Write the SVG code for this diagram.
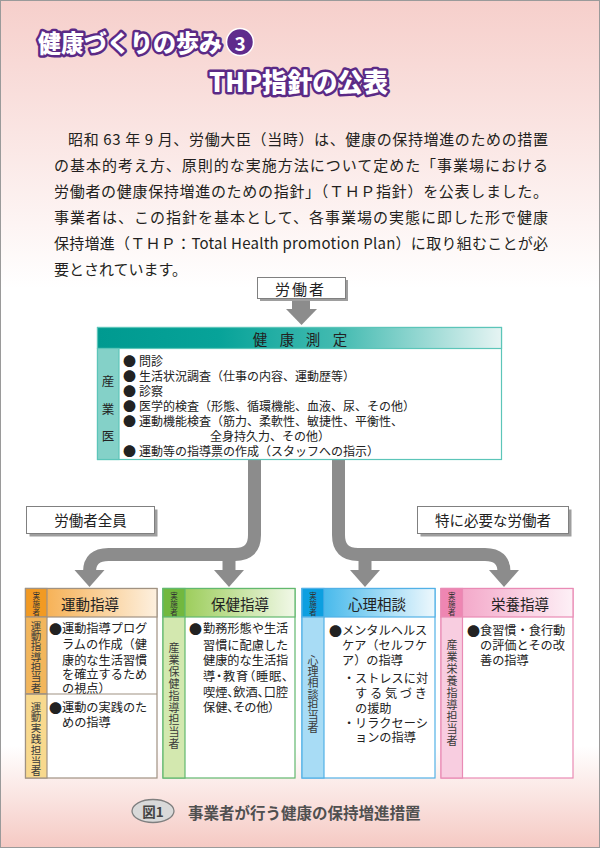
<svg xmlns="http://www.w3.org/2000/svg" width="600" height="848" viewBox="0 0 600 848">
<defs>
<linearGradient id="bg" x1="0" y1="0" x2="0" y2="848" gradientUnits="userSpaceOnUse">
<stop offset="0" stop-color="#f6cfcb"/>
<stop offset="0.34" stop-color="#ffffff"/>
<stop offset="0.88" stop-color="#ffffff"/>
<stop offset="1" stop-color="#f5c9c3"/>
</linearGradient>
<linearGradient id="teal" x1="0" y1="0" x2="1" y2="0">
<stop offset="0" stop-color="#009a90"/>
<stop offset="0.3" stop-color="#07a399"/>
<stop offset="0.6" stop-color="#44bbb1"/>
<stop offset="1" stop-color="#e6f4f3"/>
</linearGradient>
<linearGradient id="gOr" x1="0" y1="0" x2="1" y2="0">
<stop offset="0" stop-color="#f5a63d"/>
<stop offset="1" stop-color="#fdf0df"/>
</linearGradient>
<linearGradient id="gGr" x1="0" y1="0" x2="1" y2="0">
<stop offset="0" stop-color="#8cc540"/>
<stop offset="1" stop-color="#f1f8e8"/>
</linearGradient>
<linearGradient id="gBl" x1="0" y1="0" x2="1" y2="0">
<stop offset="0" stop-color="#27ade8"/>
<stop offset="1" stop-color="#eef8fd"/>
</linearGradient>
<linearGradient id="gPk" x1="0" y1="0" x2="1" y2="0">
<stop offset="0" stop-color="#f29bc1"/>
<stop offset="1" stop-color="#fdf0f6"/>
</linearGradient>
</defs>
<style>
text { font-family: "Noto Sans CJK JP", "Noto Sans", sans-serif; dominant-baseline: central; fill: #222; }
.title { font-weight: 900; fill: #ffffff; stroke: #5b2a86; stroke-width: 5; stroke-linejoin: round; paint-order: stroke; }
.para { font-size: 15px; fill: #231f20; }
.lab { font-size: 14.5px; }
.c12 { font-size: 12px; }
.b12 { font-size: 12.2px; }
.bul { font-size: 13px; }
.vt { font-size: 10.5px; fill: #3a3a3a; text-anchor: middle; }
.vt11 { font-size: 11px; fill: #3a3a3a; text-anchor: middle; }
.jis { font-size: 7.5px; fill: #333; text-anchor: middle; }
.hd { font-size: 14.5px; text-anchor: middle; }
.palt { font-feature-settings: "palt"; }
.arrow { fill: none; stroke: #8c8c8c; stroke-width: 13; }
.head { fill: #8c8c8c; }
.shadow { fill: #9e9e9e; }
.wbox { fill: #ffffff; stroke: #808080; stroke-width: 1; }
</style>

<rect x="0.5" y="0.5" width="599" height="847" fill="url(#bg)" stroke="#9a9a9a" stroke-width="1"/>

<g id="title">
<text class="title" x="38" y="42" font-size="23.5" textLength="184" lengthAdjust="spacingAndGlyphs">健康づくりの歩み</text>
<circle cx="240" cy="42" r="13.5" fill="#5f2b8c" stroke="#ffffff" stroke-width="1.5"/>
<text x="240" y="42" font-size="19" font-weight="bold" text-anchor="middle" style="fill:#ffffff">3</text>
<text class="title" x="209" y="80" font-size="26" textLength="179" lengthAdjust="spacingAndGlyphs">THP指針の公表</text>
</g>

<g id="intro">
<text class="para" x="68" y="138.5" textLength="480">昭和 63 年 9 月、労働大臣（当時）は、健康の保持増進のための措置</text>
<text class="para" x="54" y="164.5" textLength="494">の基本的考え方、原則的な実施方法について定めた「事業場における</text>
<text class="para" x="54" y="190.5" textLength="494">労働者の健康保持増進のための指針」（ＴＨＰ指針）を公表しました。</text>
<text class="para" x="54" y="216.5" textLength="494">事業者は、この指針を基本として、各事業場の実態に即した形で健康</text>
<text class="para" x="54" y="242.5" textLength="494">保持増進（ＴＨＰ：Total Health promotion Plan）に取り組むことが必</text>
<text class="para" x="54" y="268.5">要とされています。</text>
</g>

<g id="connectors">
<rect x="292" y="298" width="18" height="12" class="head"/>
<polygon class="head" points="286,309 317,309 301.5,325"/>
<path class="arrow" d="M254.5 460 V535 Q254.5 554.5 235 554.5 H108.5 Q89.5 554.5 89.5 572"/>
<path class="arrow" d="M229 554 V571"/>
<polygon class="head" points="74.5,570 104.5,570 89.5,587"/>
<polygon class="head" points="214,570 244,570 229,587"/>
<path class="arrow" d="M338.5 460 V535 Q338.5 554.5 358 554.5 H485 Q504 554.5 504 572"/>
<path class="arrow" d="M365 554 V571"/>
<polygon class="head" points="350,570 380,570 365,587"/>
<polygon class="head" points="489,570 519,570 504,587"/>
</g>

<g id="node-worker">
<rect class="shadow" x="260" y="280" width="88" height="21"/>
<rect class="wbox" x="257.5" y="277.5" width="88" height="21"/>
<text x="275 292 309" y="288" font-size="15">労働者</text>
</g>

<g id="node-kenko">
<rect x="97.5" y="327.5" width="404" height="132" fill="#ffffff" stroke="#5cc5b9" stroke-width="1.2"/>
<rect x="97.5" y="327.5" width="404" height="21" fill="url(#teal)" stroke="#5cc5b9" stroke-width="1.2"/>
<rect x="97.5" y="348.5" width="21.5" height="111" fill="#84d1c8" stroke="#5cc5b9" stroke-width="1.2"/>
<text x="260 287 313 340" y="338" font-size="14.5" text-anchor="middle">健康測定</text>
<text x="108 108 108" y="380 408 435" font-size="12.5" text-anchor="middle">産業医</text>
<text class="bul" x="123" y="360">●</text><text class="c12" x="139" y="360">問診</text>
<text class="bul" x="123" y="375">●</text><text class="c12" x="139" y="375">生活状況調査（仕事の内容、運動歴等）</text>
<text class="bul" x="123" y="390">●</text><text class="c12" x="139" y="390">診察</text>
<text class="bul" x="123" y="405">●</text><text class="c12" x="139" y="405">医学的検査（形態、循環機能、血液、尿、その他）</text>
<text class="bul" x="123" y="420">●</text><text class="c12" x="139" y="420">運動機能検査（筋力、柔軟性、敏捷性、平衡性、</text>
<text class="c12" x="210" y="435">全身持久力、その他）</text>
<text class="bul" x="123" y="450">●</text><text class="c12" x="139" y="450">運動等の指導票の作成（スタッフへの指示）</text>
</g>

<g id="label-all">
<rect class="shadow" x="29.5" y="509.5" width="128" height="27"/>
<rect class="wbox" x="26.5" y="506.5" width="128" height="27"/>
<text class="lab" x="90.5" y="519.5" text-anchor="middle">労働者全員</text>
</g>

<g id="label-special">
<rect class="shadow" x="420.5" y="509.5" width="151" height="27"/>
<rect class="wbox" x="417.5" y="506.5" width="151" height="27"/>
<text class="lab" x="493" y="519.5" text-anchor="middle">特に必要な労働者</text>
</g>

<g id="node-undo">
<rect x="25.5" y="588.5" width="131.5" height="189.5" fill="#ffffff" stroke="#a09282" stroke-width="1.2"/>
<rect x="25.5" y="588.5" width="131.5" height="28.5" fill="url(#gOr)" stroke="#a09282" stroke-width="1.2"/>
<rect x="25.5" y="588.5" width="21.5" height="28.5" fill="#f29a22" stroke="#a09282" stroke-width="1.2"/>
<rect x="25.5" y="617" width="21.5" height="77" fill="#f2b65c" stroke="#a09282" stroke-width="1.2"/>
<rect x="25.5" y="694" width="21.5" height="84" fill="#f8d98e" stroke="#a09282" stroke-width="1.2"/>
<line x1="25.5" y1="694" x2="157" y2="694" stroke="#a09282" stroke-width="1.2"/>
<text class="jis" x="36.25 36.25 36.25" y="595 603 611">実施者</text>
<text class="hd" x="90" y="603">運動指導</text>
<text class="vt" x="36 36 36 36 36 36 36" y="625 635.3 645.6 656 666.3 676.6 687">運動指導担当者</text>
<text class="vt" x="36 36 36 36 36 36 36" y="706 716.8 727.6 738.4 749.2 760 770.8">運動実践担当者</text>
<text class="bul" x="49" y="628">●</text><text class="b12" x="62" y="628">運動指導プログ</text>
<text class="b12" x="62" y="644">ラムの作成（健</text>
<text class="b12" x="62" y="660">康的な生活習慣</text>
<text class="b12" x="62" y="674">を確立するため</text>
<text class="b12" x="62" y="688">の視点）</text>
<text class="bul" x="49" y="707">●</text><text class="b12" x="62" y="707">運動の実践のた</text>
<text class="b12" x="62" y="722">めの指導</text>
</g>

<g id="node-hoken">
<rect x="163" y="588.5" width="132" height="189.5" fill="#ffffff" stroke="#62b86e" stroke-width="1.2"/>
<rect x="163" y="588.5" width="132" height="28.5" fill="url(#gGr)" stroke="#62b86e" stroke-width="1.2"/>
<rect x="163" y="588.5" width="22" height="28.5" fill="#72b83f" stroke="#62b86e" stroke-width="1.2"/>
<rect x="163" y="617" width="22" height="161" fill="#d3e8af" stroke="#62b86e" stroke-width="1.2"/>
<text class="jis" x="174 174 174" y="595 603 611">実施者</text>
<text class="hd" x="240" y="603">保健指導</text>
<text class="vt11" x="174 174 174 174 174 174 174 174 174" y="647 659 671 683 695 707 719 731 743">産業保健指導担当者</text>
<text class="bul" x="189" y="628">●</text><text class="b12" x="203" y="628">勤務形態や生活</text>
<text class="b12" x="203" y="645">習慣に配慮した</text>
<text class="b12" x="203" y="660">健康的な生活指</text>
<text class="b12 palt" x="203" y="676" textLength="85">導・教育（睡眠、</text>
<text class="b12 palt" x="203" y="692" textLength="85">喫煙、飲酒、口腔</text>
<text class="b12 palt" x="203" y="707">保健、その他）</text>
</g>

<g id="node-shinri">
<rect x="302" y="588.5" width="133" height="189.5" fill="#ffffff" stroke="#52b1e6" stroke-width="1.2"/>
<rect x="302" y="588.5" width="133" height="28.5" fill="url(#gBl)" stroke="#52b1e6" stroke-width="1.2"/>
<rect x="302" y="588.5" width="22" height="28.5" fill="#0c9fe0" stroke="#52b1e6" stroke-width="1.2"/>
<rect x="302" y="617" width="22" height="161" fill="#a8dcf5" stroke="#52b1e6" stroke-width="1.2"/>
<text class="jis" x="313 313 313" y="595 603 611">実施者</text>
<text class="hd" x="377" y="603">心理相談</text>
<text class="vt11" x="313 313 313 313 313 313 313" y="660 671.2 682.4 693.6 704.8 716 727.2">心理相談担当者</text>
<text class="bul" x="329" y="630">●</text><text class="b12" x="342" y="630">メンタルヘルス</text>
<text class="b12" x="342" y="645">ケア（セルフケ</text>
<text class="b12" x="342" y="660">ア）の指導</text>
<text class="b12" x="343" y="678">・</text><text class="b12" x="355" y="678">ストレスに対</text>
<text class="b12" x="355" y="693" textLength="72">する気づき</text>
<text class="b12" x="355" y="708">の援助</text>
<text class="b12" x="343" y="723">・</text><text class="b12" x="355" y="723">リラクセーシ</text>
<text class="b12" x="355" y="737">ョンの指導</text>
</g>

<g id="node-eiyo">
<rect x="441" y="588.5" width="132" height="189.5" fill="#ffffff" stroke="#e98bb5" stroke-width="1.2"/>
<rect x="441" y="588.5" width="132" height="28.5" fill="url(#gPk)" stroke="#e98bb5" stroke-width="1.2"/>
<rect x="441" y="588.5" width="21.5" height="28.5" fill="#ee86b2" stroke="#e98bb5" stroke-width="1.2"/>
<rect x="441" y="617" width="21.5" height="161" fill="#f8cde0" stroke="#e98bb5" stroke-width="1.2"/>
<text class="jis" x="451.75 451.75 451.75" y="595 603 611">実施者</text>
<text class="hd" x="520" y="603">栄養指導</text>
<text class="vt11" x="452 452 452 452 452 452 452 452 452" y="644 656 668 680 692 704 716 728 740">産業栄養指導担当者</text>
<text class="bul" x="467" y="630">●</text><text class="b12" x="480" y="630">食習慣・食行動</text>
<text class="b12" x="480" y="645">の評価とその改</text>
<text class="b12" x="480" y="660">善の指導</text>
</g>

<g id="caption">
<ellipse cx="153" cy="811" rx="21" ry="11.5" fill="#d9d9d9" stroke="#7f7f7f" stroke-width="1.3"/>
<text x="153" y="811" font-size="13.5" font-weight="bold" text-anchor="middle" style="fill:#444">図1</text>
<text x="188" y="812" font-size="15.5" font-weight="bold" style="fill:#505050">事業者が行う健康の保持増進措置</text>
</g>
</svg>
